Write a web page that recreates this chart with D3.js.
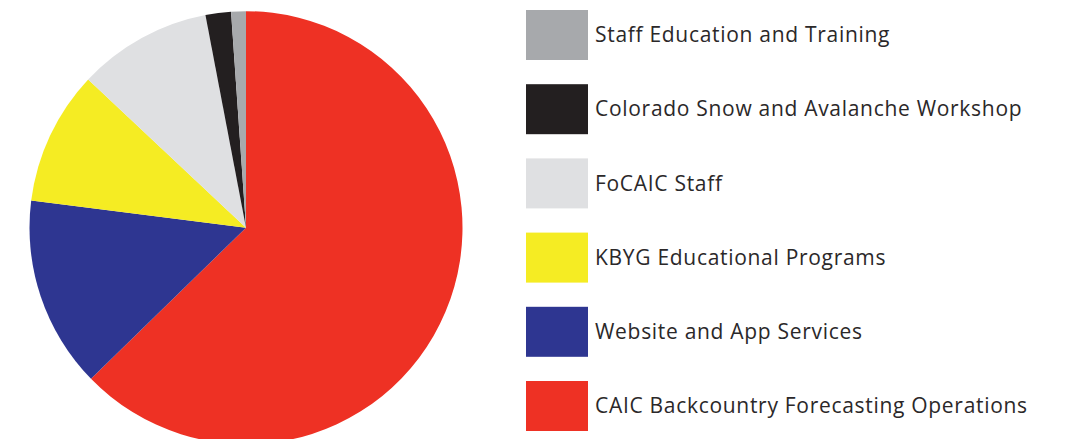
<!DOCTYPE html>
<html>
<head>
<meta charset="utf-8">
<script src="https://cdn.jsdelivr.net/npm/d3@7"></script>
<style>
  body { margin: 0; background: #fff; }
  text { font-family: "Open Sans", sans-serif; fill: #2b2829; }
</style>
</head>
<body>
<script>
// budget share, clockwise from 12 o'clock
var categories = ["CAIC Backcountry Forecasting Operations", "Website and App Services",
  "KBYG Educational Programs", "FoCAIC Staff", "Colorado Snow and Avalanche Workshop",
  "Staff Education and Training"];
var values = [62.7, 14.3, 10.0, 10.0, 1.9, 1.1];
var colors = ["#ee3124", "#2e3691", "#f5ec23", "#dfe0e2", "#231f20", "#a7a9ac"];

var width = 1068, height = 439;

var svg = d3.select("body").append("svg")
    .attr("width", width)
    .attr("height", height);

var data = categories.map(function(c, i) { return {name: c, value: values[i], color: colors[i]}; });

var pie = d3.pie().sort(null).value(function(d) { return d.value; });
var arc = d3.arc().innerRadius(0).outerRadius(216.5);

var g = svg.append("g").attr("transform", "translate(246,227.7)");
g.selectAll("path")
    .data(pie(data))
    .enter().append("path")
    .attr("d", arc)
    .attr("fill", function(d) { return d.data.color; });

// legend is listed bottom-up
var legendData = data.slice().reverse();
var y = d3.scalePoint().domain(legendData.map(function(d) { return d.name; })).range([10, 381]);

var items = svg.append("g").selectAll("g")
    .data(legendData)
    .enter().append("g")
    .attr("transform", function(d) { return "translate(526," + y(d.name) + ")"; });

items.append("rect")
    .attr("width", 62)
    .attr("height", 50)
    .attr("fill", function(d) { return d.color; });

items.append("text")
    .attr("x", 69)
    .attr("y", 25)
    .attr("dy", "0.34em")
    .style("font-size", "21px")
    .style("letter-spacing", "0.7px")
    .text(function(d) { return d.name; });
</script>
</body>
</html>
